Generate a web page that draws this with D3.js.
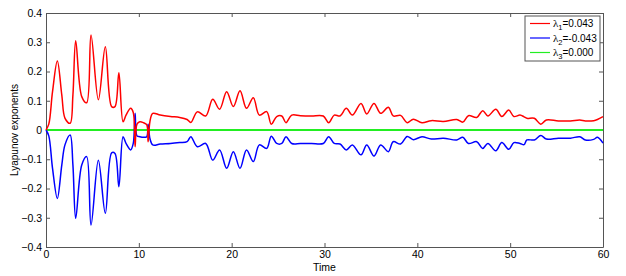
<!DOCTYPE html>
<html lang="en">
<head>
<meta charset="utf-8">
<title>Lyapunov exponents</title>
<script src="https://cdnjs.cloudflare.com/ajax/libs/d3/7.7.0/d3.min.js"></script>
<style>
  body { margin: 0; background: #fff; }
  svg { display: block; font-family: "Liberation Sans", Arial, sans-serif; }
  .axis text { font-size: 10.5px; fill: #000; }
  .axis path, .axis line { stroke: #555; }
</style>
</head>
<body>
<div id="chart"></div>
<script>
// sample times (shared by lambda1 and lambda2)
const time = [0, 0.3, 0.7, 1.22, 1.7, 2.05, 2.6, 2.9, 3.2, 3.85, 4.38, 4.85, 5.64, 6.39, 7.07, 7.43, 7.85,
  8.3, 8.62, 9.12, 9.4, 9.6, 9.8, 10.1, 10.5, 10.85, 11.0, 11.2, 11.5, 12.3, 13.4, 14.4, 15.2, 15.6,
  16.3, 17.2, 17.96, 18.7, 19.46, 20.18, 20.9, 21.6, 22.33, 22.98, 23.77, 24.27, 24.85, 25.4, 25.85,
  26.47, 27.4, 28.6, 29.87, 30.45, 31.05, 31.67, 32.35, 33.0, 33.93, 34.55, 35.33, 36.05, 36.88, 37.4,
  38.2, 38.9, 39.57, 40.5, 41.5, 42.8, 44.25, 44.9, 45.5, 46.4, 47.04, 47.6, 48.45, 49.1, 49.85, 50.4,
  51.06, 51.5, 51.8, 52.6, 53.3, 53.9, 55.2, 56.5, 57.5, 58.1, 59.0, 59.4, 60];

const lambda1 = [0, 0.02, 0.13, 0.236, 0.12, 0.04, 0.023, 0.12, 0.305, 0.114, 0.093, 0.325, 0.103, 0.285, 0.08, 0.08, 0.196,
  0.028, 0.051, 0.074, 0.06, -0.057, 0.02, 0.028, 0.025, 0.018, -0.04, 0.03, 0.057, 0.051, 0.046, 0.043, 0.036, 0.026,
  0.062, 0.048, 0.105, 0.071, 0.131, 0.08, 0.134, 0.074, 0.11, 0.051, 0.063, 0.02, 0.046, 0.048, 0.025,
  0.051, 0.049, 0.048, 0.048, 0.025, 0.051, 0.048, 0.074, 0.051, 0.091, 0.055, 0.091, 0.057, 0.078, 0.048,
  0.05, 0.025, 0.037, 0.025, 0.032, 0.029, 0.036, 0.027, 0.049, 0.043, 0.066, 0.048, 0.071, 0.046, 0.068, 0.046,
  0.051, 0.045, 0.04, 0.04, 0.02, 0.034, 0.031, 0.031, 0.034, 0.031, 0.032, 0.036, 0.046];

const lambda2 = [0, -0.02, -0.13, -0.234, -0.12, -0.05, -0.017, -0.12, -0.302, -0.12, -0.091, -0.325, -0.103, -0.285, -0.078, -0.08, -0.194,
  -0.023, -0.046, -0.068, -0.046, 0.057, -0.02, -0.023, -0.025, -0.023, 0.02, -0.03, -0.051, -0.048, -0.046, -0.043, -0.04, -0.023,
  -0.057, -0.046, -0.103, -0.068, -0.131, -0.074, -0.131, -0.068, -0.108, -0.051, -0.063, -0.021, -0.046, -0.046, -0.023,
  -0.046, -0.046, -0.046, -0.046, -0.023, -0.046, -0.048, -0.068, -0.051, -0.085, -0.051, -0.089, -0.051, -0.074, -0.04,
  -0.048, -0.022, -0.033, -0.023, -0.031, -0.028, -0.034, -0.025, -0.046, -0.04, -0.063, -0.046, -0.071, -0.043, -0.066, -0.043,
  -0.046, -0.05, -0.034, -0.034, -0.019, -0.031, -0.028, -0.028, -0.023, -0.034, -0.032, -0.025, -0.045];

const lambda3Time = [0, 60];
const lambda3 = [0, 0];

const xTicks = [0, 10, 20, 30, 40, 50, 60];
const yTicks = [-0.4, -0.3, -0.2, -0.1, 0, 0.1, 0.2, 0.3, 0.4];
const legendNames = ["1", "2", "3"];
const legendValues = ["0.043", "-0.043", "0.000"];
const colors = ["#ff0000", "#0000ff", "#22ee22"];

const w = 626, h = 276;
const m = { left: 46, right: 23, top: 13, bottom: 29 };

const svg = d3.select("#chart").append("svg").attr("width", w).attr("height", h);

const x = d3.scaleLinear().domain([0, 60]).range([m.left, w - m.right]);
const y = d3.scaleLinear().domain([-0.4, 0.4]).range([h - m.bottom, m.top]);

const fmt = d => d === 0 ? "0" : d3.format(".1f")(d);

// box axes, ticks inward
svg.append("g").attr("class", "axis")
  .attr("transform", "translate(0," + (h - m.bottom) + ")")
  .call(d3.axisBottom(x).tickValues(xTicks).tickSizeInner(-4).tickSizeOuter(0).tickPadding(4));
svg.append("g").attr("class", "axis")
  .attr("transform", "translate(0," + m.top + ")")
  .call(d3.axisTop(x).tickValues(xTicks).tickSizeInner(-4).tickSizeOuter(0).tickFormat(""));
svg.append("g").attr("class", "axis")
  .attr("transform", "translate(" + m.left + ",0)")
  .call(d3.axisLeft(y).tickValues(yTicks).tickSizeInner(-4).tickSizeOuter(0).tickPadding(4).tickFormat(fmt));
svg.append("g").attr("class", "axis")
  .attr("transform", "translate(" + (w - m.right) + ",0)")
  .call(d3.axisRight(y).tickValues(yTicks).tickSizeInner(-4).tickSizeOuter(0).tickFormat(""));

// lines
const line = d3.line().curve(d3.curveCatmullRom.alpha(0.5));
svg.append("path")
  .attr("d", line(lambda3Time.map((t, i) => [x(t), y(lambda3[i])])))
  .attr("fill", "none").attr("stroke", colors[2]).attr("stroke-width", 1.8);
svg.append("path")
  .attr("d", line(time.map((t, i) => [x(t), y(lambda2[i])])))
  .attr("fill", "none").attr("stroke", colors[1]).attr("stroke-width", 1.5);
svg.append("path")
  .attr("d", line(time.map((t, i) => [x(t), y(lambda1[i])])))
  .attr("fill", "none").attr("stroke", colors[0]).attr("stroke-width", 1.5);

// axis titles
svg.append("text")
  .attr("x", (m.left + w - m.right) / 2).attr("y", h - 5)
  .attr("text-anchor", "middle").attr("font-size", 10.5).text("Time");
svg.append("text")
  .attr("transform", "translate(18," + ((m.top + h - m.bottom) / 2) + ") rotate(-90)")
  .attr("text-anchor", "middle").attr("font-size", 10).text("Lyapunov exponents");

// legend
const lg = svg.append("g").attr("transform", "translate(525,16)");
lg.append("rect").attr("width", 75).attr("height", 45)
  .attr("fill", "#fff").attr("stroke", "#555").attr("stroke-width", 1);
legendNames.forEach((n, i) => {
  const yy = 7.5 + i * 14.5;
  lg.append("line").attr("x1", 5).attr("x2", 25).attr("y1", yy).attr("y2", yy)
    .attr("stroke", colors[i]).attr("stroke-width", 1.2);
  const t = lg.append("text").attr("x", 28).attr("y", yy + 3.5).attr("font-size", 10);
  t.append("tspan").attr("font-family", "'Liberation Serif', serif").attr("font-size", 11).text("λ");
  t.append("tspan").attr("font-size", 7.5).attr("dy", 3).text(n);
  t.append("tspan").attr("dy", -3).text("=" + legendValues[i]);
});
</script>
</body>
</html>
